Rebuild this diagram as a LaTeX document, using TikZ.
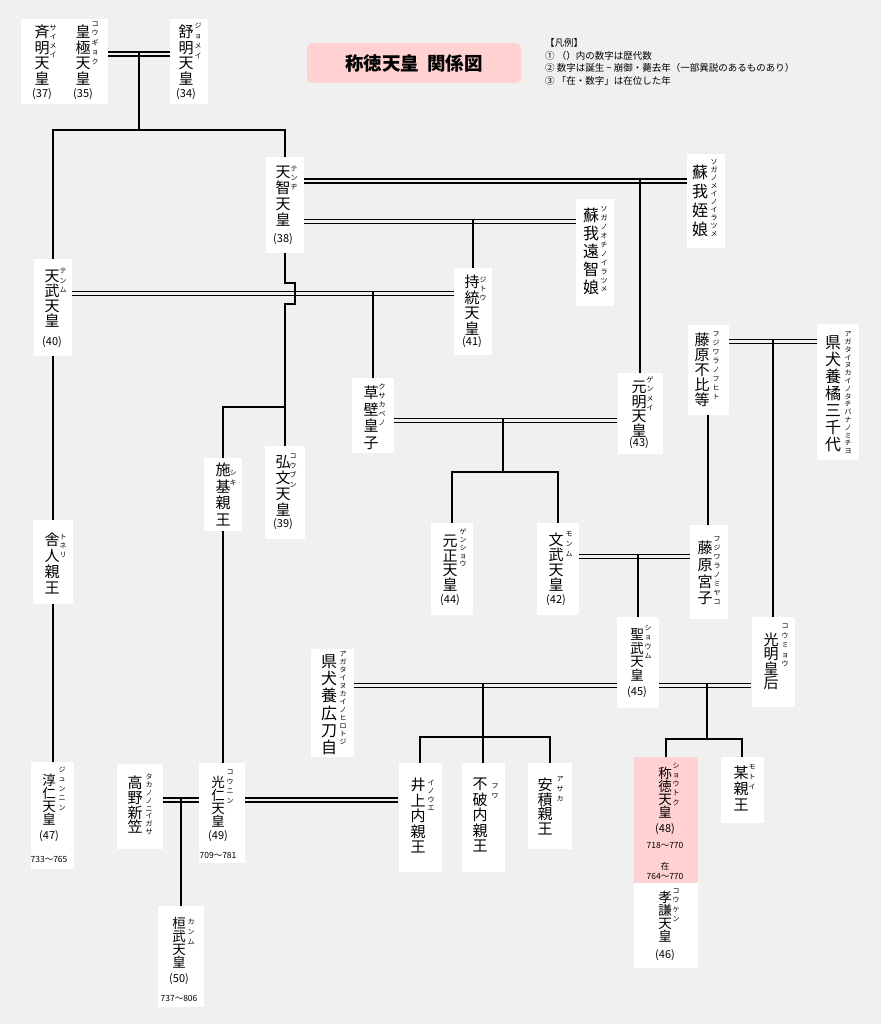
\documentclass[tikz,border=0pt]{standalone}
\usepackage{fontspec}
\setmainfont{Noto Sans CJK JP}
\definecolor{bggray}{RGB}{240,240,240}
\definecolor{pinkbox}{RGB}{255,209,209}

% vertical writing: one glyph per line, centred on the node
\def\tate#1{\vbox{\lineskiplimit=-20pt\relax\tatenext#1\relax}}
\def\tatenext#1{\ifx\relax#1\else\hbox to 0pt{\hss#1\hss}\expandafter\tatenext\fi}

\begin{document}
\begin{tikzpicture}[x=1pt, y=-1pt,
    pbox/.style={fill=white, inner sep=0pt},
    kanji/.style={font=\fontsize{15}{#1}\selectfont, inner sep=0pt, anchor=north},
    kanji/.default=16,
    big/.style={font=\fontsize{16}{#1}\selectfont},
    tight/.style={font=\fontsize{13.5}{#1}\selectfont},
    kana/.style={font=\fontsize{7}{#1}\selectfont, inner sep=0pt, anchor=north},
    kana/.default=9,
    num/.style={font=\fontsize{11}{13}\selectfont, inner sep=0pt},
    years/.style={font=\fontsize{8.5}{10}\selectfont, inner sep=0pt},
    kin/.style={line width=1.8pt},
    wed/.style={double=bggray, double distance=2.7pt, line width=1.3pt}]

    % Background
    \fill[bggray] (0,0) rectangle (881,1024);
    \useasboundingbox (0,0) rectangle (881,1024);

    % Title
    \node[fill=pinkbox, rounded corners=6pt, minimum width=214, minimum height=40, inner sep=0pt,
          font=\fontsize{18.5}{20}\selectfont\bfseries] (title) at (414,63) {称徳天皇\hspace{0.45em}関係図};

    % Legend
    \node[anchor=north west, align=left, inner sep=0pt, font=\fontsize{9.5}{12.5}\selectfont] (legend) at (545,38.5)
        {【凡例】\\
         ① （）内の数字は歴代数\\
         ② 数字は誕生 \textasciitilde{} 崩御・薨去年（一部異説のあるものあり）\\
         ③ 「在・数字」は在位した年};

    % Boxes
    \node[pbox, minimum width=87, minimum height=85] (kogyoku) at (64.5,61.5) {};
    \node[pbox, minimum width=38, minimum height=85] (jomei) at (189,61.5) {};
    \node[pbox, minimum width=38, minimum height=96] (tenji) at (285,205) {};
    \node[pbox, minimum width=38, minimum height=94] (meinoiratsume) at (706,201) {};
    \node[pbox, minimum width=38, minimum height=107] (ochinoiratsume) at (595,252.5) {};
    \node[pbox, minimum width=38, minimum height=97] (tenmu) at (53,307.5) {};
    \node[pbox, minimum width=38, minimum height=87] (jito) at (473,311.5) {};
    \node[pbox, minimum width=41, minimum height=90] (fuhito) at (708,370) {};
    \node[pbox, minimum width=42, minimum height=136] (michiyo) at (838,392) {};
    \node[pbox, minimum width=42, minimum height=75] (kusakabe) at (373,415.5) {};
    \node[pbox, minimum width=45, minimum height=81] (genmei) at (640,413.5) {};
    \node[pbox, minimum width=38, minimum height=73] (shiki) at (223,494.5) {};
    \node[pbox, minimum width=40, minimum height=93] (kobun) at (285,492.5) {};
    \node[pbox, minimum width=40, minimum height=84] (toneri) at (53,562) {};
    \node[pbox, minimum width=42, minimum height=92] (gensho) at (452,569) {};
    \node[pbox, minimum width=42, minimum height=92] (monmu) at (558,569) {};
    \node[pbox, minimum width=38, minimum height=94] (miyako) at (709,572) {};
    \node[pbox, minimum width=42, minimum height=91] (shomu) at (638,662.5) {};
    \node[pbox, minimum width=43, minimum height=90] (komyo) at (773,662) {};
    \node[pbox, minimum width=43, minimum height=108] (hirotoji) at (332.5,703) {};
    \node[pbox, minimum width=43, minimum height=109] (inoue) at (420,817.5) {};
    \node[pbox, minimum width=43, minimum height=109] (fuwa) at (483,817.5) {};
    \node[pbox, minimum width=44, minimum height=86] (asaka) at (550,806) {};
    \node[pbox, minimum width=43, minimum height=107] (junnin) at (52,815.5) {};
    \node[pbox, minimum width=46, minimum height=85] (takano) at (140,806.5) {};
    \node[pbox, minimum width=46, minimum height=100] (konin) at (222,813) {};
    \node[pbox, minimum width=46, minimum height=101] (kanmu) at (181,956.5) {};
    \node[pbox, fill=pinkbox, minimum width=64, minimum height=126] (shotoku) at (666,820) {};
    \node[pbox, minimum width=64, minimum height=85] (koken) at (666,925.5) {};
    \node[pbox, minimum width=43, minimum height=66] (motoi) at (742,790) {};

    % Marriages
    \coordinate (m1) at (139,54);
    \coordinate (m2) at (640,181);
    \coordinate (m3) at (473,221.5);
    \coordinate (m4) at (373,293.5);
    \coordinate (m5) at (503,420.5);
    \coordinate (m6) at (773,341.5);
    \coordinate (m7) at (638,556.5);
    \coordinate (m8) at (483,685.5);
    \coordinate (m9) at (707,685.5);
    \coordinate (m10) at (181,800);
    \draw[wed] (kogyoku.east |- m1) -- (jomei.west |- m1);
    \draw[wed] (tenji.east |- m2) -- (meinoiratsume.west |- m2);
    \draw[wed] (tenji.east |- m3) -- (ochinoiratsume.west |- m3);
    \draw[wed] (tenmu.east |- m4) -- (jito.west |- m4);
    \draw[wed] (kusakabe.east |- m5) -- (genmei.west |- m5);
    \draw[wed] (fuhito.east |- m6) -- (michiyo.west |- m6);
    \draw[wed] (monmu.east |- m7) -- (miyako.west |- m7);
    \draw[wed] (hirotoji.east |- m8) -- (shomu.west |- m8);
    \draw[wed] (shomu.east |- m9) -- (komyo.west |- m9);
    \draw[wed] (takano.east |- m10) -- (konin.west |- m10);
    \draw[wed] (konin.east |- m10) -- (inoue.west |- m10);

    % Children
    \coordinate (b1) at (139,130);
    \coordinate (b3) at (285,407);
    \coordinate (b5) at (503,472);
    \coordinate (b8) at (483,737);
    \coordinate (b9) at (707,739);
    \draw[kin] ([yshift=2pt]m1) -- (b1);
    \draw[kin] (tenmu.north) |- (b1) -| (tenji.north);
    \draw[kin] (tenji.south) -- ++(0,30) -- ++(10,0) -- ++(0,21) -- ++(-10,0) -- (kobun.north);
    \draw[kin] (b3) -| (shiki.north);
    \draw[kin] ([yshift=2pt]m2) -- (genmei.north);
    \draw[kin] ([yshift=2pt]m3) -- (jito.north);
    \draw[kin] ([yshift=2pt]m4) -- (kusakabe.north);
    \draw[kin] ([yshift=2pt]m5) -- (b5);
    \draw[kin] (gensho.north) |- (b5) -| (monmu.north);
    \draw[kin] ([yshift=2pt]m6) -- (komyo.north);
    \draw[kin] (fuhito.south) -- (fuhito.south |- miyako.north);
    \draw[kin] ([yshift=2pt]m7) -- (shomu.north);
    \draw[kin] ([yshift=2pt]m8) -- (b8) -- (fuwa.north);
    \draw[kin] (inoue.north) |- (b8) -| (asaka.north);
    \draw[kin] ([yshift=2pt]m9) -- (b9);
    \draw[kin] (shotoku.north) |- (b9) -| (motoi.north);
    \draw[kin] (tenmu.south) -- (toneri.north);
    \draw[kin] (toneri.south) -- (toneri.south |- junnin.north);
    \draw[kin] (shiki.south) -- (shiki.south |- konin.north);
    \draw[kin] ([yshift=2pt]m10) -- (kanmu.north);

    % Names
    \node[kanji=15.5] (saimei-t) at (42,25) {\tate{斉明天皇}};
    \node[num] (saimei-n) at (42,94) {(37)};
    \node[kana=9] (saimei-r) at (53,25) {\tate{サイメイ}};
    \node[kanji=15.5] (kogyoku-t) at (83,25) {\tate{皇極天皇}};
    \node[num] (kogyoku-n) at (83,94) {(35)};
    \node[kana=9.5] (kogyoku-r) at (95,21.5) {\tate{コウギョク}};
    \node[kanji=15.5] (jomei-t) at (186,25) {\tate{舒明天皇}};
    \node[num] (jomei-n) at (186,94) {(34)};
    \node[kana=10] (jomei-r) at (198,22.5) {\tate{ジョメイ}};

    \node[kanji=16] (tenji-t) at (283,166) {\tate{天智天皇}};
    \node[num] (tenji-n) at (283,239) {(38)};
    \node[kana=9] (tenji-r) at (294,166.5) {\tate{テンヂ}};
    \node[kanji, big=19] (meinoiratsume-t) at (700,164.5) {\tate{蘇我姪娘}};
    \node[kana=8] (meinoiratsume-r) at (714,159.5) {\tate{ソガノメイノイラツメ}};
    \node[kanji, big=18] (ochinoiratsume-t) at (591,207.5) {\tate{蘇我遠智娘}};
    \node[kana=8.9] (ochinoiratsume-r) at (604,206.5) {\tate{ソガノオチノイラツメ}};

    \node[kanji=15] (tenmu-t) at (52,270) {\tate{天武天皇}};
    \node[num] (tenmu-n) at (52,342) {(40)};
    \node[kana=9.5] (tenmu-r) at (63,268.5) {\tate{テンム}};
    \node[kanji=15.5] (jito-t) at (472,275) {\tate{持統天皇}};
    \node[num] (jito-n) at (472,342) {(41)};
    \node[kana=9] (jito-r) at (483,276.5) {\tate{ジトウ}};
    \node[kanji=15] (fuhito-t) at (702,333) {\tate{藤原不比等}};
    \node[kana=9] (fuhito-r) at (716,331.5) {\tate{フジワラノフヒト}};
    \node[kanji, big=17] (michiyo-t) at (833,335.5) {\tate{県犬養橘三千代}};
    \node[kana=7.8] (michiyo-r) at (848,331.5) {\tate{アガタイヌカイノタチバナノミチヨ}};

    \node[kanji=16.5] (kusakabe-t) at (371,386) {\tate{草壁皇子}};
    \node[kana=9] (kusakabe-r) at (382,383.5) {\tate{クサカベノ}};
    \node[kanji=14.5] (genmei-t) at (639,381) {\tate{元明天皇}};
    \node[num] (genmei-n) at (639,443) {(43)};
    \node[kana=9.3] (genmei-r) at (650,376.5) {\tate{ゲンメイ}};
    \node[kanji=16.5] (shiki-t) at (223,463) {\tate{施基親王}};
    \node[kana=10] (shiki-r) at (233,469.5) {\tate{シキ}};
    \node[kanji=16] (kobun-t) at (283,455) {\tate{弘文天皇}};
    \node[num] (kobun-n) at (283,524) {(39)};
    \node[kana=9.5] (kobun-r) at (293,453.5) {\tate{コウブン}};
    \node[kanji=16] (toneri-t) at (52,533) {\tate{舎人親王}};
    \node[kana=9] (toneri-r) at (63,533.5) {\tate{トネリ}};

    \node[kanji=14.5] (gensho-t) at (450,535) {\tate{元正天皇}};
    \node[num] (gensho-n) at (450,600) {(44)};
    \node[kana=8] (gensho-r) at (463,528.5) {\tate{ゲンショウ}};
    \node[kanji=15] (monmu-t) at (556,533) {\tate{文武天皇}};
    \node[num] (monmu-n) at (556,600) {(42)};
    \node[kana=10] (monmu-r) at (569,531.5) {\tate{モンム}};
    \node[kanji=16.7] (miyako-t) at (705,541) {\tate{藤原宮子}};
    \node[kana=9] (miyako-r) at (717,536.5) {\tate{フジワラノミヤコ}};
    \node[kanji, tight=13.5] (shomu-t) at (637,628.5) {\tate{聖武天皇}};
    \node[num] (shomu-n) at (637,692) {(45)};
    \node[kana=9.5] (shomu-r) at (648,624.5) {\tate{ショウム}};
    \node[kanji=14.5] (komyo-t) at (771,632.5) {\tate{光明皇后}};
    \node[kana=9.5] (komyo-r) at (785,623.5) {\tate{コウミョウ}};
    \node[kanji, big=17.2] (hirotoji-t) at (329,654.5) {\tate{県犬養広刀自}};
    \node[kana=8] (hirotoji-r) at (343,651.5) {\tate{アガタイヌカイノヒロトジ}};

    \node[kanji=15.5] (inoue-t) at (418,778) {\tate{井上内親王}};
    \node[kana=8.5] (inoue-r) at (431,779.5) {\tate{イノウエ}};
    \node[kanji=15.5] (fuwa-t) at (480,778) {\tate{不破内親王}};
    \node[kana=10] (fuwa-r) at (495,783.5) {\tate{フワ}};
    \node[kanji=14.5] (asaka-t) at (545,778) {\tate{安積親王}};
    \node[kana=10] (asaka-r) at (560,776.5) {\tate{アサカ}};

    \node[kanji, tight=13] (junnin-t) at (49,773.5) {\tate{淳仁天皇}};
    \node[num] (junnin-n) at (49,836) {(47)};
    \node[years] (junnin-y) at (49,859) {733～765};
    \node[kana=9.5] (junnin-r) at (62,766.5) {\tate{ジュンニン}};
    \node[kanji=14.7] (takano-t) at (135,776) {\tate{高野新笠}};
    \node[kana=7.9] (takano-r) at (149,773.5) {\tate{タカノノニイガサ}};
    \node[kanji, tight=13.3] (konin-t) at (218,775.5) {\tate{光仁天皇}};
    \node[num] (konin-n) at (218,836) {(49)};
    \node[years] (konin-y) at (218,855) {709～781};
    \node[kana=9.7] (konin-r) at (230,769.5) {\tate{コウニン}};
    \node[kanji, tight=13.3] (kanmu-t) at (179,916.5) {\tate{桓武天皇}};
    \node[num] (kanmu-n) at (179,979) {(50)};
    \node[years] (kanmu-y) at (179,998) {737～806};
    \node[kana=10] (kanmu-r) at (191,918.5) {\tate{カンム}};

    \node[kanji, tight=13.3] (shotoku-t) at (665,766.5) {\tate{称徳天皇}};
    \node[num] (shotoku-n) at (665,829) {(48)};
    \node[years] (shotoku-y) at (665,845) {718～770};
    \node[years] (shotoku-z) at (665,866) {在};
    \node[years] (shotoku-y2) at (665,876) {764～770};
    \node[kana=9.3] (shotoku-r) at (676,762.5) {\tate{ショウトク}};
    \node[kanji, tight=13.3] (koken-t) at (665,890.5) {\tate{孝謙天皇}};
    \node[num] (koken-n) at (665,955) {(46)};
    \node[kana=9.3] (koken-r) at (676,888.5) {\tate{コウケン}};
    \node[kanji=16] (motoi-t) at (741,766) {\tate{某親王}};
    \node[kana=10] (motoi-r) at (752,764.5) {\tate{モトイ}};

\end{tikzpicture}
\end{document}
